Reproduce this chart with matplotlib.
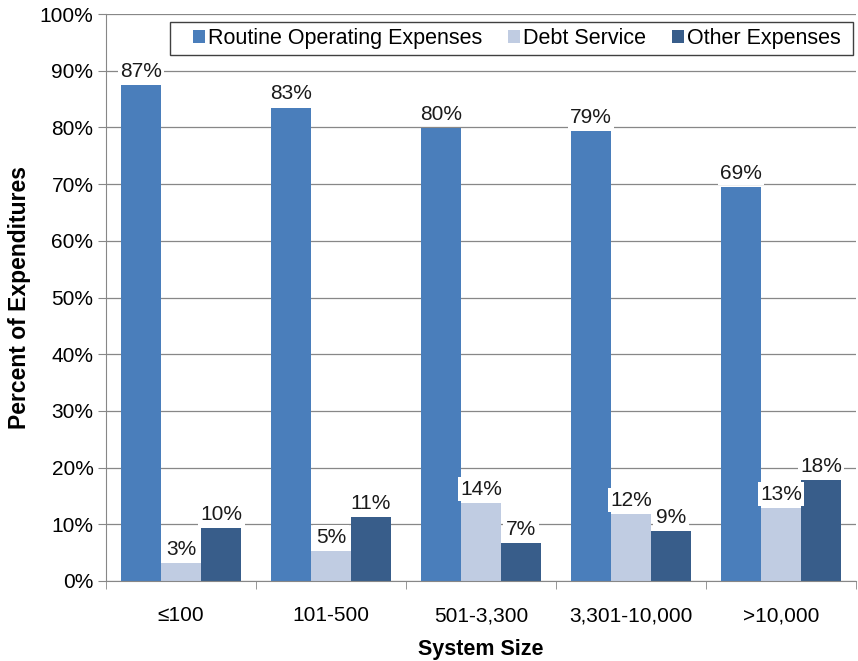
import matplotlib
matplotlib.use("Agg")
import matplotlib.pyplot as plt
import matplotlib.patches as mpatches
import numpy as np
from matplotlib.ticker import FuncFormatter, FixedLocator

plt.rcParams['font.family'] = ['Liberation Sans', 'DejaVu Sans']

categories = ["\u2264100", "101-500", "501-3,300", "3,301-10,000", ">10,000"]
routine = [87.4, 83.5, 79.9, 79.4, 69.5]
debt = [3.2, 5.3, 13.8, 11.8, 12.9]
other = [9.4, 11.3, 6.7, 8.8, 17.8]
routine_lbl = ["87%", "83%", "80%", "79%", "69%"]
debt_lbl = ["3%", "5%", "14%", "12%", "13%"]
other_lbl = ["10%", "11%", "7%", "9%", "18%"]
series_names = ["Routine Operating Expenses", "Debt Service", "Other Expenses"]
colors = ["#4A7EBB", "#C0CCE2", "#385D8A"]

W, H = 858, 661
fig = plt.figure(figsize=(W/100, H/100), dpi=100)
ax = fig.add_axes([106/W, 1-581/H, 750/W, 567/H])

x = np.arange(len(categories))
w = 0.8/3
series = [(routine, routine_lbl), (debt, debt_lbl), (other, other_lbl)]
for i, ((vals, lbls), name, c) in enumerate(zip(series, series_names, colors)):
    xs = x - w + i*w
    ax.bar(xs, vals, width=w, color=c, label=name, zorder=2)
    for xi, v, l in zip(xs, vals, lbls):
        ax.annotate(l, (xi, v), xytext=(0, 3), textcoords="offset points",
                    ha="center", va="bottom", fontsize=15, color="#1a1a1a",
                    bbox=dict(boxstyle="square,pad=0.12", fc="white", ec="none"),
                    zorder=4)

ax.set_xlim(-0.5, len(categories)-0.5)
ax.set_ylim(0, 100)
ax.set_yticks(np.arange(0, 101, 10))
ax.yaxis.set_major_formatter(FuncFormatter(lambda v, p: f"{int(v)}%"))
ax.set_xticks(x)
ax.set_xticklabels(categories)
ax.xaxis.set_minor_locator(FixedLocator(np.arange(-0.5, len(categories), 1)))
ax.tick_params(axis='x', which='major', length=0, pad=18, labelsize=15)
ax.tick_params(axis='x', which='minor', length=6, color="#878787", direction="out")
ax.tick_params(axis='y', length=6, color="#878787", labelsize=15, pad=3)
ax.grid(axis='y', color="#878787", linewidth=0.9, zorder=0)
ax.set_axisbelow(True)
for s in ["top", "right"]:
    ax.spines[s].set_visible(False)
for s in ["left", "bottom"]:
    ax.spines[s].set_color("#878787")
ax.set_ylabel("Percent of Expenditures", fontsize=16.5, fontweight="bold", labelpad=6)
ax.set_xlabel("System Size", fontsize=15.5, fontweight="bold", labelpad=10)

# legend frame
frame = mpatches.Rectangle((170/W, 1-55/H), 683/W, 33/H, transform=fig.transFigure,
                           fill=True, fc="white", ec="#404040", lw=1.0, zorder=5)
fig.patches.append(frame)
leg = fig.legend(*ax.get_legend_handles_labels(), loc="center left",
                 bbox_to_anchor=(193/W, 1-38.5/H), bbox_transform=fig.transFigure,
                 ncol=3, fontsize=15.5, frameon=False,
                 handlelength=0.56, handleheight=0.56, handletextpad=0.14,
                 columnspacing=1.2, borderpad=0, borderaxespad=0)
leg.set_zorder(6)

fig.savefig("out.png", dpi=100)
